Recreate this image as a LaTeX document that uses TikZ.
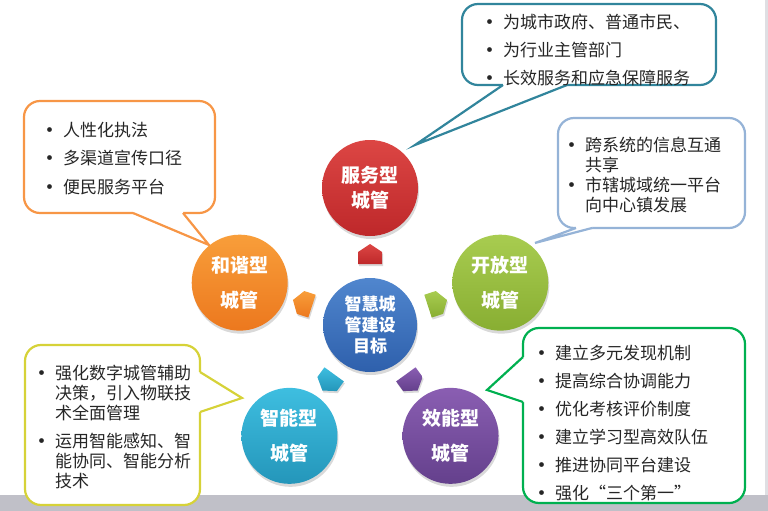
\documentclass[tikz,border=0pt]{standalone}
\usepackage{fontspec}
\setmainfont{Noto Sans CJK SC}
\usetikzlibrary{shadows}

\definecolor{fwtop}{RGB}{220,70,68}
\definecolor{fwbot}{RGB}{190,40,42}
\definecolor{kftop}{RGB}{168,204,80}
\definecolor{kfbot}{RGB}{136,174,50}
\definecolor{xntop}{RGB}{138,94,178}
\definecolor{xnbot}{RGB}{100,64,140}
\definecolor{zntop}{RGB}{62,190,224}
\definecolor{znbot}{RGB}{36,150,186}
\definecolor{hxtop}{RGB}{248,158,58}
\definecolor{hxbot}{RGB}{236,120,30}
\definecolor{mbtop}{RGB}{80,134,206}
\definecolor{mbbot}{RGB}{46,96,172}
\definecolor{fwline}{RGB}{49,133,156}
\definecolor{kfline}{RGB}{149,179,215}
\definecolor{hxline}{RGB}{247,150,70}
\definecolor{znline}{RGB}{214,210,56}
\definecolor{xnline}{RGB}{0,176,80}
\definecolor{band}{RGB}{192,192,200}

\tikzset{
  goal/.style={circle, minimum size=96pt, inner sep=0pt, text=white, align=center,
    font=\bfseries\fontsize{19}{35}\selectfont,
    drop shadow={shadow xshift=1pt, shadow yshift=-3pt, opacity=.3}},
  note/.style={line width=2.2pt, fill=white, rounded corners=16pt},
  tail/.style={line width=2.2pt, line join=miter},
  notetext/.style={anchor=north west, inner sep=0pt, align=left, text=black!85,
    font=\fontsize{17}{20}\selectfont},
}
\newcommand{\blt}{\makebox[22pt][l]{\textbf{•}}}

\begin{document}
\begin{tikzpicture}[x=1pt, y=-1pt]
\pgfmathsetmacro{\rgoal}{137};
\pgfmathsetmacro{\rarrow}{70};

\useasboundingbox (0,0) rectangle (768,511);
\fill[band] (0,495) rectangle (768,511);
\fill[band!50] (765,0) rectangle (768,495);

\coordinate (o) at (370,325);

\coordinate (fwtip) at (415,145);
\draw[note, draw=fwline] (462,4) rectangle (716,85);
\fill[white] (503,85) -- (fwtip) -- (567,85) -- (567,82) -- (503,82) -- cycle;
\draw[tail, draw=fwline] (503,85) -- (fwtip) -- (567,85);
\node[notetext] (fwnote) at (481,14) {\blt 为城市政府、普通市民、\\[8pt]\blt 为行业主管部门\\[8pt]\blt 长效服务和应急保障服务};

\coordinate (kftip) at (535,243);
\draw[note, draw=kfline] (558,118) rectangle (745,228);
\fill[white] (576,228) -- (kftip) -- (592,228) -- (592,225) -- (576,225) -- cycle;
\draw[tail, draw=kfline] (576,228) -- (kftip) -- (592,228);
\node[notetext] (kfnote) at (563,137) {\blt 跨系统的信息互通\\\hspace*{22pt}共享\\\blt 市辖城域统一平台\\\hspace*{22pt}向中心镇发展};

\coordinate (hxtip) at (209,245);
\draw[note, draw=hxline] (24,101) rectangle (215,213);
\fill[white] (133,213) -- (hxtip) -- (183,213) -- (183,210) -- (133,210) -- cycle;
\draw[tail, draw=hxline] (133,213) -- (hxtip) -- (183,213);
\node[notetext] (hxnote) at (41,122) {\blt 人性化执法\\[8.5pt]\blt 多渠道宣传口径\\[8.5pt]\blt 便民服务平台};

\coordinate (zntip) at (242,398);
\draw[note, draw=znline] (25,345) rectangle (200,505);
\fill[white] (200,372) -- (zntip) -- (200,412) -- (197,412) -- (197,372) -- cycle;
\draw[tail, draw=znline] (200,372) -- (zntip) -- (200,412);
\node[notetext] (znnote) at (33,365) {\blt 强化数字城管辅助\\\hspace*{22pt}决策，引入物联技\\\hspace*{22pt}术全面管理\\[8pt]\blt 运用智能感知、智\\\hspace*{22pt}能协同、智能分析\\\hspace*{22pt}技术};

\coordinate (xntip) at (487,390);
\draw[note, draw=xnline] (523,328) rectangle (745,503);
\fill[white] (523,357) -- (xntip) -- (523,402) -- (526,402) -- (526,357) -- cycle;
\draw[tail, draw=xnline] (523,357) -- (xntip) -- (523,402);
\node[notetext] (xnnote) at (533,345) {\blt 建立多元发现机制\\[8pt]\blt 提高综合协调能力\\[8pt]\blt 优化考核评价制度\\[8pt]\blt 建立学习型高效队伍\\[8pt]\blt 推进协同平台建设\\[8pt]\blt 强化“三个第一”};

\node[goal, top color=mbtop, bottom color=mbbot, minimum size=94pt, font=\bfseries\fontsize{17}{21}\selectfont] (mubiao) at (o) {智慧城\\管建设\\目标};
\path (o) ++(-90:\rgoal) node[goal, top color=fwtop, bottom color=fwbot, font=\bfseries\fontsize{19}{25}\selectfont] (fuwu) {服务型\\城管};
\path (o) ++(-18:\rgoal) node[goal, top color=kftop, bottom color=kfbot] (kaifang) {开放型\\城管};
\path (o) ++(54:\rgoal) node[goal, top color=xntop, bottom color=xnbot] (xiaoneng) {效能型\\城管};
\path (o) ++(126:\rgoal) node[goal, top color=zntop, bottom color=znbot] (zhineng) {智能型\\城管};
\path (o) ++(198:\rgoal) node[goal, top color=hxtop, bottom color=hxbot] (hexie) {和谐型\\城管};

\foreach \ang/\cn in {-90/fw, -18/kf, 54/xn, 126/zn, 198/hx}{
  \path (o) ++(\ang:\rarrow) coordinate (a\cn);
  \shade[top color=\cn top, bottom color=\cn bot, drop shadow={shadow xshift=1pt, shadow yshift=-2pt, opacity=.3}, shift={(a\cn)}, rotate=-\ang] (-9,-12) -- (3,-12) -- (11,0) -- (3,12) -- (-9,12) -- cycle;
}
\end{tikzpicture}
\end{document}
